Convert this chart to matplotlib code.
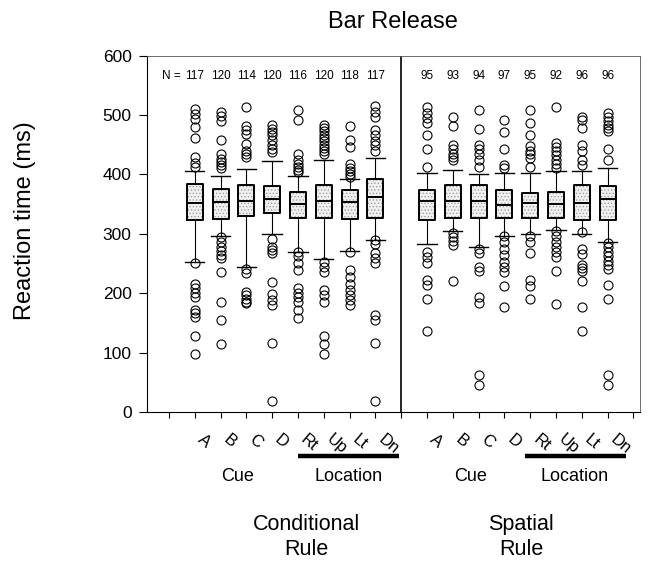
import matplotlib
matplotlib.use("Agg")
import matplotlib.pyplot as plt
import matplotlib.transforms as mtransforms

plt.rcParams['font.family'] = ['Liberation Sans', 'DejaVu Sans']
plt.rcParams['hatch.linewidth'] = 0.5

labels = ['A', 'B', 'C', 'D', 'Rt', 'Up', 'Lt', 'Dn']
cond_pos = [2, 3, 4, 5, 6, 7, 8, 9]
spat_pos = [11, 12, 13, 14, 15, 16, 17, 18]

# conditional rule
cond_n = [117, 120, 114, 120, 116, 120, 118, 117]
cond_q1 = [323, 325, 330, 335, 327, 327, 325, 327]
cond_med = [352, 353, 355, 359, 350, 356, 353, 362]
cond_q3 = [384, 375, 383, 381, 371, 382, 374, 393]
cond_wlo = [253, 297, 244, 299, 270, 258, 271, 290]
cond_whi = [406, 397, 409, 422, 397, 425, 393, 427]
cond_fliers = [
    [510, 502, 494, 479, 462, 430, 420, 412, 250, 216, 208, 200, 193, 171, 166, 160, 128, 97],
    [505, 499, 490, 458, 434, 426, 421, 415, 410, 295, 286, 278, 271, 264, 260, 236, 185, 155, 114],
    [513, 482, 474, 468, 452, 440, 435, 429, 240, 234, 202, 197, 191, 185, 183],
    [484, 477, 471, 466, 458, 450, 443, 437, 292, 278, 272, 267, 218, 198, 188, 180, 116, 18],
    [508, 491, 435, 425, 418, 412, 408, 404, 270, 262, 250, 239, 208, 201, 194, 185, 171, 159],
    [484, 478, 473, 467, 462, 456, 450, 445, 439, 434, 253, 244, 236, 205, 197, 185, 128, 114, 97],
    [481, 458, 446, 418, 411, 406, 400, 395, 269, 239, 227, 216, 205, 197, 188, 180],
    [516, 505, 496, 475, 466, 457, 450, 440, 289, 283, 267, 260, 251, 163, 155, 116, 18],
]

# spatial rule
spat_n = [95, 93, 94, 97, 95, 92, 96, 96]
spat_q1 = [324, 327, 327, 327, 327, 327, 324, 324]
spat_med = [355, 356, 355, 349, 352, 350, 352, 359]
spat_q3 = [374, 383, 383, 373, 369, 371, 383, 380]
spat_wlo = [282, 304, 278, 297, 299, 306, 299, 287]
spat_whi = [403, 408, 400, 402, 402, 405, 406, 410]
spat_fliers = [
    [513, 504, 495, 486, 466, 442, 413, 269, 261, 250, 222, 213, 191, 136],
    [496, 482, 449, 442, 435, 429, 425, 302, 295, 288, 281, 221],
    [509, 477, 450, 443, 435, 425, 412, 275, 267, 244, 237, 193, 183, 62, 45],
    [492, 472, 443, 415, 411, 296, 286, 275, 264, 253, 244, 236, 212, 177],
    [509, 487, 466, 447, 440, 435, 427, 412, 296, 286, 267, 222, 212, 191],
    [514, 453, 446, 439, 432, 425, 417, 410, 305, 296, 286, 278, 269, 261, 237, 182],
    [497, 491, 478, 450, 439, 425, 415, 303, 275, 266, 247, 242, 237, 221, 177, 137],
    [503, 496, 490, 484, 478, 473, 443, 425, 285, 277, 269, 262, 254, 247, 240, 213, 191, 62, 45],
]


def make_stats(q1, med, q3, wlo, whi, fliers):
    out = []
    for i in range(len(q1)):
        out.append({'q1': q1[i], 'med': med[i], 'q3': q3[i],
                    'whislo': wlo[i], 'whishi': whi[i], 'fliers': fliers[i]})
    return out


cond_stats = make_stats(cond_q1, cond_med, cond_q3, cond_wlo, cond_whi, cond_fliers)
spat_stats = make_stats(spat_q1, spat_med, spat_q3, spat_wlo, spat_whi, spat_fliers)
stats = cond_stats + spat_stats
positions = cond_pos + spat_pos

fig = plt.figure(figsize=(6.59, 5.62), dpi=100)
ax = fig.add_axes([0.223, 0.267, 0.748, 0.634])

# stippled fill under the boxes
ax.bxp(stats, positions=positions, widths=0.62, patch_artist=True,
       showfliers=False, showcaps=False,
       boxprops=dict(facecolor='#efefef', edgecolor='#9a9a9a', linewidth=0, hatch='.....'),
       whiskerprops=dict(linewidth=0), medianprops=dict(linewidth=0))

ax.bxp(stats, positions=positions, widths=0.62, capwidths=0.75,
       boxprops=dict(color='black', linewidth=1.4),
       medianprops=dict(color='black', linewidth=1.4),
       whiskerprops=dict(color='black', linewidth=0.8),
       capprops=dict(color='black', linewidth=1.0),
       flierprops=dict(marker='o', markerfacecolor='none', markeredgecolor='black',
                       markersize=6.5, markeredgewidth=0.8))

ax.axvline(10, color='black', linewidth=1.2)

ax.set_xlim(0.15, 19.25)
ax.set_ylim(0, 600)
ax.set_yticks([0, 100, 200, 300, 400, 500, 600])
ax.tick_params(axis='y', labelsize=12.5, length=6, pad=5)

xt = list(range(1, 20))
xl = []
for t in xt:
    if t in cond_pos:
        xl.append(labels[cond_pos.index(t)])
    elif t in spat_pos:
        xl.append(labels[spat_pos.index(t)])
    else:
        xl.append('')
ax.set_xticks(xt)
ax.set_xticklabels(xl, rotation=-40, ha='left', fontsize=12)
ax.tick_params(axis='x', length=4, pad=10)

for sp in ['top', 'right']:
    ax.spines[sp].set_linewidth(0.6)
    ax.spines[sp].set_color('#555555')

# N counts
for p, n in zip(cond_pos, cond_n):
    ax.text(p, 566, str(n), ha='center', va='center', fontsize=8.5)
ax.text(1.45, 566, 'N =', ha='right', va='center', fontsize=8.5)
for p, n in zip(spat_pos, spat_n):
    ax.text(p, 566, str(n), ha='center', va='center', fontsize=8.5)

trans = mtransforms.blended_transform_factory(ax.transData, ax.transAxes)
ax.plot([5.99, 9.9], [-0.1235, -0.1235], color='black', linewidth=3.2,
        transform=trans, clip_on=False, solid_capstyle='butt')
ax.plot([14.81, 18.72], [-0.1235, -0.1235], color='black', linewidth=3.2,
        transform=trans, clip_on=False, solid_capstyle='butt')
ax.text(3.67, -0.18, 'Cue', transform=trans, ha='center', va='center', fontsize=13)
ax.text(7.96, -0.18, 'Location', transform=trans, ha='center', va='center', fontsize=13)
ax.text(12.68, -0.18, 'Cue', transform=trans, ha='center', va='center', fontsize=13)
ax.text(16.7, -0.18, 'Location', transform=trans, ha='center', va='center', fontsize=13)
ax.text(6.34, -0.352, 'Conditional\nRule', transform=trans, ha='center', va='center',
        fontsize=15.5, linespacing=1.25)
ax.text(14.66, -0.352, 'Spatial\nRule', transform=trans, ha='center', va='center',
        fontsize=15.5, linespacing=1.25)

fig.text(0.596, 0.961, 'Bar Release', ha='center', va='center', fontsize=17)
fig.text(0.038, 0.608, 'Reaction time (ms)', rotation=90, ha='center', va='center', fontsize=17)

plt.savefig('out.png', dpi=100)
